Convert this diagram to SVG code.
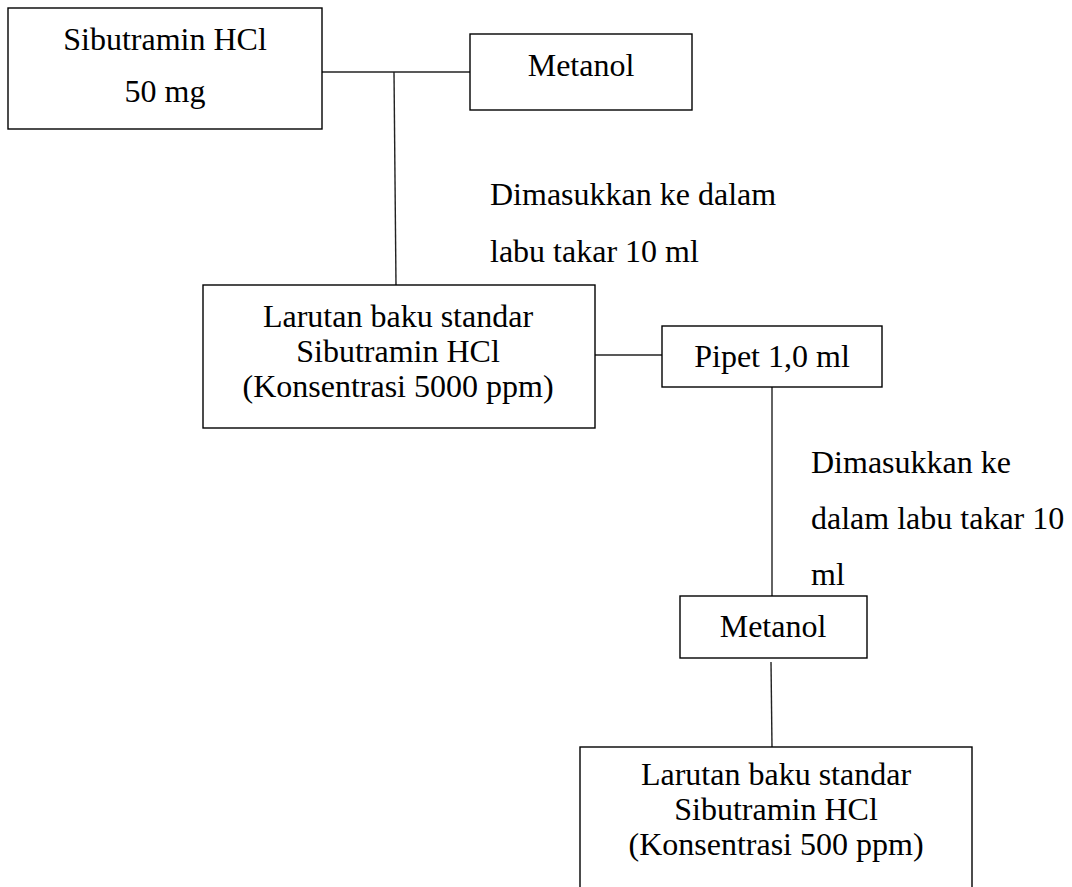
<svg xmlns="http://www.w3.org/2000/svg" width="1072" height="887" viewBox="0 0 1072 887">
<style>
.box{fill:#fff;stroke:#000;stroke-width:1.4}
.ln{fill:none;stroke:#222;stroke-width:1.4}
text{font-family:"Liberation Serif","Times New Roman",serif;font-size:32px;fill:#000}
.c{text-anchor:middle}
</style>
<rect width="1072" height="887" fill="#fff"/>
<g id="connectors">
<line class="ln" x1="322" y1="72" x2="470" y2="72"/>
<line class="ln" x1="394" y1="72" x2="396" y2="285"/>
<line class="ln" x1="595" y1="355" x2="662" y2="355"/>
<line class="ln" x1="772" y1="387" x2="772" y2="596"/>
<line class="ln" x1="771" y1="662" x2="772" y2="747"/>
</g>
<g id="n1">
<rect class="box" x="8" y="8" width="314" height="121"/>
<text class="c" x="165" y="50">Sibutramin HCl</text>
<text class="c" x="165" y="102">50 mg</text>
</g>
<g id="n2">
<rect class="box" x="470" y="34" width="222" height="76"/>
<text class="c" x="581" y="76">Metanol</text>
</g>
<g id="l1">
<text x="490" y="205">Dimasukkan ke dalam</text>
<text x="490" y="262">labu takar 10 ml</text>
</g>
<g id="n3">
<rect class="box" x="203" y="285" width="392" height="143"/>
<text class="c" x="398" y="327">Larutan baku standar</text>
<text class="c" x="398" y="362">Sibutramin HCl</text>
<text class="c" x="398" y="397">(Konsentrasi 5000 ppm)</text>
</g>
<g id="n4">
<rect class="box" x="662" y="326" width="220" height="61"/>
<text class="c" x="772" y="367">Pipet 1,0 ml</text>
</g>
<g id="l2">
<text x="811" y="473">Dimasukkan ke</text>
<text x="811" y="529">dalam labu takar 10</text>
<text x="811" y="585">ml</text>
</g>
<g id="n5">
<rect class="box" x="680" y="596" width="187" height="62"/>
<text class="c" x="773" y="637">Metanol</text>
</g>
<g id="n6">
<rect class="box" x="580" y="747" width="392" height="150"/>
<text class="c" x="776" y="785">Larutan baku standar</text>
<text class="c" x="776" y="820">Sibutramin HCl</text>
<text class="c" x="776" y="855">(Konsentrasi 500 ppm)</text>
</g>
</svg>
